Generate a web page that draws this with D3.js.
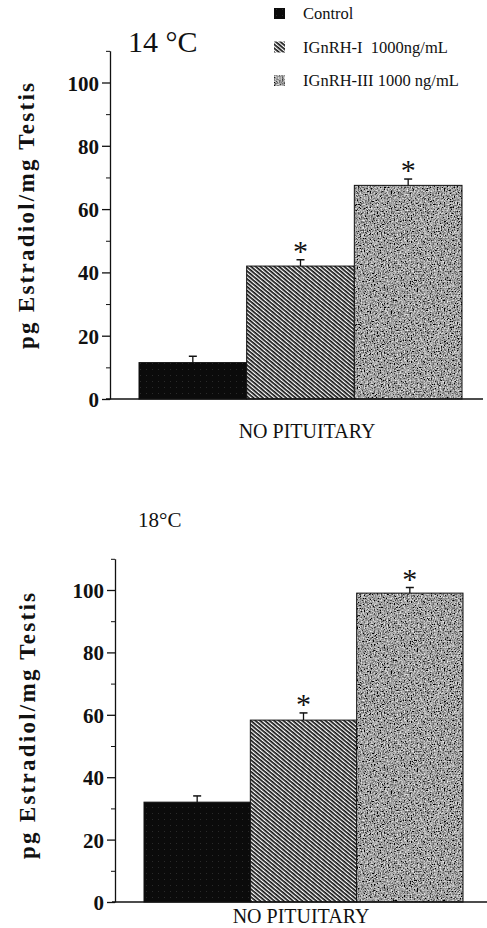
<!DOCTYPE html>
<html>
<head>
<meta charset="utf-8">
<script src="https://cdn.jsdelivr.net/npm/d3@7"></script>
<style>
  html, body { margin: 0; padding: 0; background: #fff; }
  svg { display: block; }
</style>
</head>
<body>
<svg id="chart"></svg>
<script>
// data
const groups = ['Control', 'IGnRH-I  1000ng/mL', 'IGnRH-III 1000 ng/mL'];
const fills = ['url(#solid)', 'url(#hatch)', 'url(#stipple)'];
const signif = [false, true, true];

const panel14Means = [11.5, 42, 67.5];
const panel14Errs = [2, 2, 2];
const panel18Means = [32, 58.3, 99];
const panel18Errs = [2, 2.3, 1.8];

const majorTicks = [0, 20, 40, 60, 80, 100];
const minorTicks = [10, 30, 50, 70, 90, 110];

const width = 487;
const height = 928;
const serif = '"Liberation Serif", "DejaVu Serif", serif';

const svg = d3.select('#chart')
  .attr('width', width)
  .attr('height', height);

svg.append('rect')
  .attr('width', width)
  .attr('height', height)
  .attr('fill', '#fff');

// patterns for the three bar fills
const defs = svg.append('defs');

defs.append('pattern')
  .attr('id', 'solid')
  .attr('patternUnits', 'userSpaceOnUse')
  .attr('width', 6).attr('height', 6)
  .call(p => {
    p.append('rect').attr('width', 6).attr('height', 6).attr('fill', '#0b0b0b');
    p.append('rect').attr('x', 2).attr('y', 3).attr('width', 1).attr('height', 1).attr('fill', '#2a2a2a');
  });

defs.append('pattern')
  .attr('id', 'hatch')
  .attr('patternUnits', 'userSpaceOnUse')
  .attr('width', 6).attr('height', 3)
  .attr('patternTransform', 'rotate(40)')
  .call(p => {
    p.append('rect').attr('width', 6).attr('height', 3).attr('fill', '#fff');
    p.append('rect').attr('width', 6).attr('height', 1.7).attr('fill', '#111');
  });

const noise = defs.append('filter')
  .attr('id', 'noise')
  .attr('x', 0).attr('y', 0).attr('width', 1).attr('height', 1);
noise.append('feTurbulence')
  .attr('type', 'fractalNoise')
  .attr('baseFrequency', 0.7)
  .attr('numOctaves', 2)
  .attr('seed', 4)
  .attr('result', 't');
noise.append('feColorMatrix')
  .attr('in', 't')
  .attr('type', 'matrix')
  .attr('values', '1.6 0 0 0 -0.45  1.6 0 0 0 -0.45  1.6 0 0 0 -0.45  0 0 0 0 1')
  .attr('result', 'g');
noise.append('feComposite')
  .attr('in', 'g')
  .attr('in2', 'SourceGraphic')
  .attr('operator', 'in');

defs.append('pattern')
  .attr('id', 'stipple')
  .attr('patternUnits', 'userSpaceOnUse')
  .attr('width', 120).attr('height', 120)
  .append('rect')
  .attr('width', 120).attr('height', 120)
  .attr('fill', '#999')
  .attr('filter', 'url(#noise)');

function drawPanel(cfg) {
  const { means, errs, x0, x1, y0, yTop, axisX, lineX0, lineX1 } = cfg;

  const y = d3.scaleLinear().domain([0, 110]).range([y0, yTop]);
  const x = d3.scaleBand().domain(groups).range([x0, x1]).padding(0);

  const g = svg.append('g');

  // bars
  g.selectAll('rect.bar')
    .data(groups)
    .join('rect')
    .attr('class', 'bar')
    .attr('x', d => x(d))
    .attr('y', (d, i) => y(means[i]))
    .attr('width', x.bandwidth())
    .attr('height', (d, i) => y(0) - y(means[i]))
    .attr('fill', (d, i) => fills[i])
    .attr('stroke', '#111')
    .attr('stroke-width', 1);

  // error bars (upper half only)
  const cx = d => x(d) + x.bandwidth() / 2;
  g.selectAll('line.err')
    .data(groups)
    .join('line')
    .attr('x1', cx).attr('x2', cx)
    .attr('y1', (d, i) => y(means[i]))
    .attr('y2', (d, i) => y(means[i] + errs[i]))
    .attr('stroke', '#111')
    .attr('stroke-width', 1.3);
  g.selectAll('line.cap')
    .data(groups)
    .join('line')
    .attr('x1', d => cx(d) - 4).attr('x2', d => cx(d) + 4)
    .attr('y1', (d, i) => y(means[i] + errs[i]))
    .attr('y2', (d, i) => y(means[i] + errs[i]))
    .attr('stroke', '#111')
    .attr('stroke-width', 1.5);

  // significance stars
  g.selectAll('text.star')
    .data(groups.filter((d, i) => signif[i]))
    .join('text')
    .attr('x', d => cx(d))
    .attr('y', d => { const i = groups.indexOf(d); return y(means[i] + errs[i]) + 1; })
    .attr('text-anchor', 'middle')
    .attr('font-family', serif)
    .attr('font-size', 30)
    .attr('fill', '#111')
    .text('*');

  // y axis
  const axis = svg.append('g')
    .attr('transform', `translate(${axisX},0)`)
    .call(d3.axisLeft(y).tickValues(majorTicks).tickSize(8).tickSizeOuter(0).tickPadding(3));
  axis.select('.domain').attr('stroke', '#111').attr('stroke-width', 1.3);
  axis.selectAll('.tick line').attr('stroke', '#111').attr('stroke-width', 1.3);
  axis.selectAll('.tick text')
    .attr('font-family', serif)
    .attr('font-size', 21)
    .attr('font-weight', 'bold')
    .attr('fill', '#111')
    .attr('dy', '0.36em');

  svg.append('g')
    .attr('transform', `translate(${axisX},0)`)
    .call(d3.axisLeft(y).tickValues(minorTicks).tickSize(4).tickFormat(''))
    .call(a => a.select('.domain').remove())
    .selectAll('.tick line').attr('stroke', '#111');

  // baseline
  svg.append('line')
    .attr('x1', lineX0).attr('x2', lineX1)
    .attr('y1', y(0)).attr('y2', y(0))
    .attr('stroke', '#111')
    .attr('stroke-width', 1.4);

  return y;
}

// 14 °C panel
drawPanel({
  means: panel14Means, errs: panel14Errs,
  x0: 139, x1: 462, y0: 399, yTop: 399 - 110 * 3.165,
  axisX: 110, lineX0: 106, lineX1: 483
});

// 18 °C panel
drawPanel({
  means: panel18Means, errs: panel18Errs,
  x0: 144, x1: 463, y0: 902, yTop: 902 - 110 * 3.12,
  axisX: 115, lineX0: 112, lineX1: 487
});

// y axis titles
function yTitle(cx, cy) {
  svg.append('text')
    .attr('transform', `translate(${cx},${cy}) rotate(-90)`)
    .attr('text-anchor', 'middle')
    .attr('font-family', serif)
    .attr('font-size', 23)
    .attr('font-weight', 'bold')
    .attr('fill', '#111')
    .attr('textLength', 266)
    .attr('lengthAdjust', 'spacing')
    .text('pg Estradiol/mg  Testis');
}
yTitle(34, 216);
yTitle(35, 726);

// panel titles
svg.append('text')
  .attr('x', 128).attr('y', 52)
  .attr('font-family', serif).attr('font-size', 30)
  .attr('fill', '#111')
  .text('14 °C');

svg.append('text')
  .attr('x', 138).attr('y', 527)
  .attr('font-family', serif).attr('font-size', 21)
  .attr('fill', '#111')
  .text('18°C');

// x labels
svg.append('text')
  .attr('x', 307).attr('y', 438)
  .attr('text-anchor', 'middle')
  .attr('font-family', serif).attr('font-size', 20)
  .attr('fill', '#111')
  .text('NO PITUITARY');

svg.append('text')
  .attr('x', 301).attr('y', 923)
  .attr('text-anchor', 'middle')
  .attr('font-family', serif).attr('font-size', 20)
  .attr('fill', '#111')
  .text('NO PITUITARY');

// legend
const legend = svg.append('g').attr('transform', 'translate(274,0)');
const legendY = d3.scalePoint().domain(groups).range([13, 80]);

legend.selectAll('rect')
  .data(groups)
  .join('rect')
  .attr('x', 0)
  .attr('y', d => legendY(d) - 5)
  .attr('width', 11)
  .attr('height', 11)
  .attr('fill', (d, i) => fills[i]);

legend.selectAll('text')
  .data(groups)
  .join('text')
  .attr('x', 29)
  .attr('y', d => legendY(d) + 6)
  .attr('font-family', serif)
  .attr('font-size', 16.5)
  .attr('fill', '#111')
  .style('white-space', 'pre')
  .text(d => d);
</script>
</body>
</html>
